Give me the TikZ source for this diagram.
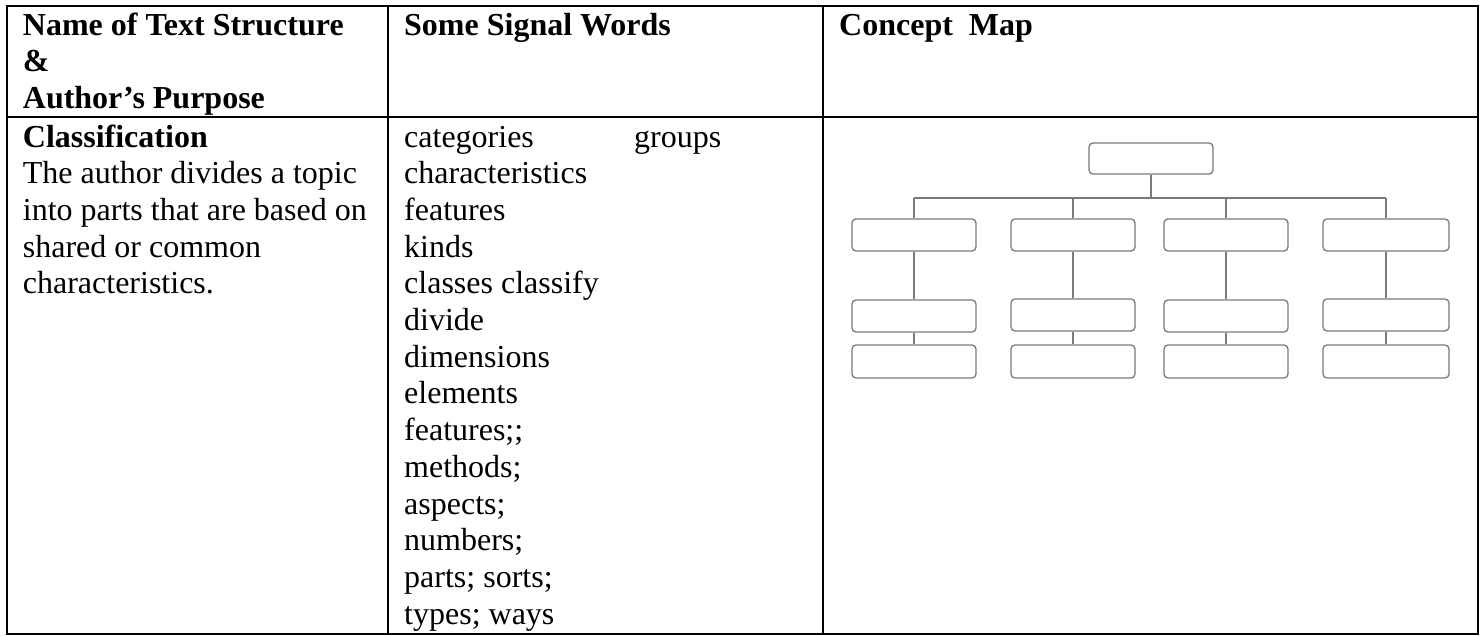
\documentclass[tikz,border=0pt]{standalone}
\usepackage{fontspec}
\setmainfont{Liberation Serif}
\begin{document}
\begin{tikzpicture}[x=1pt,y=-1pt,
  txt/.style={anchor=base west, inner sep=0pt, font=\fontsize{32}{36.7}\selectfont},
  hdr/.style={anchor=base west, inner sep=0pt, font=\fontsize{32}{36.7}\selectfont\bfseries},
  rule/.style={line width=2pt, black},
  cbox/.style={draw=black!52, line width=1.3pt, rounded corners=4pt, minimum height=32pt, minimum width=124pt, inner sep=0pt},
  clink/.style={draw=black!52, line width=1.3pt}
]
\useasboundingbox (0,0) rectangle (1484,635);
% table rules
\draw[rule] (7,6) rectangle (1477.5,633.5);
\draw[rule] (7,117) -- (1477.5,117);
\draw[rule] (388,6) -- (388,633.5);
\draw[rule] (823,6) -- (823,633.5);
% header
\node[hdr] (h1a) at (22.7,35) {Name of Text Structure};
\node[hdr] (h1b) at (22.7,71.7) {\&};
\node[hdr] (h1c) at (22.7,108.4) {Author’s Purpose};
\node[hdr] (h2) at (404,35) {Some Signal Words};
\node[hdr] (h3) at (839,35) {Concept\ \ Map};
% column 1
\node[hdr] (cl) at (22.7,147) {Classification};
\foreach \t [count=\i] in {The author divides a topic, into parts that are based on, shared or common, characteristics.}
  \node[txt] (d\i) at (22.7,{147+36.7*\i}) {\t};
% column 2
\foreach \t [count=\i from 0] in {categories, characteristics, features, kinds, classes classify, divide, dimensions, elements, features;;, methods;, aspects;, numbers;, parts; sorts;, types; ways}
  \node[txt] (w\i) at (404,{147+36.7*\i}) {\t};
\node[txt] (wg) at (634,147) {groups};
% concept map
\node[cbox, minimum height=31pt] (top) at (1151,158.5) {};
\node[cbox] (a1) at (914,235) {};
\node[cbox] (b1) at (1073,235) {};
\node[cbox] (c1) at (1226,235) {};
\node[cbox, minimum width=126pt] (e1) at (1386,235) {};
\node[cbox] (a2) at (914,316) {};
\node[cbox] (b2) at (1073,315) {};
\node[cbox] (c2) at (1226,316) {};
\node[cbox, minimum width=126pt] (e2) at (1386,315) {};
\node[cbox, minimum height=33pt] (a3) at (914,361.5) {};
\node[cbox, minimum height=33pt] (b3) at (1073,361.5) {};
\node[cbox, minimum height=33pt] (c3) at (1226,361.5) {};
\node[cbox, minimum height=33pt, minimum width=126pt] (e3) at (1386,361.5) {};
\coordinate (bar) at (1151,198);
\draw[clink] (top.south) -- (bar);
\draw[clink] (a1.north |- bar) -- (e1.north |- bar);
\foreach \n in {a,b,c,e}{
  \draw[clink] (\n1.north |- bar) -- (\n1.north);
  \draw[clink] (\n1.south) -- (\n2.north);
  \draw[clink] (\n2.south) -- (\n3.north);
}
\end{tikzpicture}
\end{document}
